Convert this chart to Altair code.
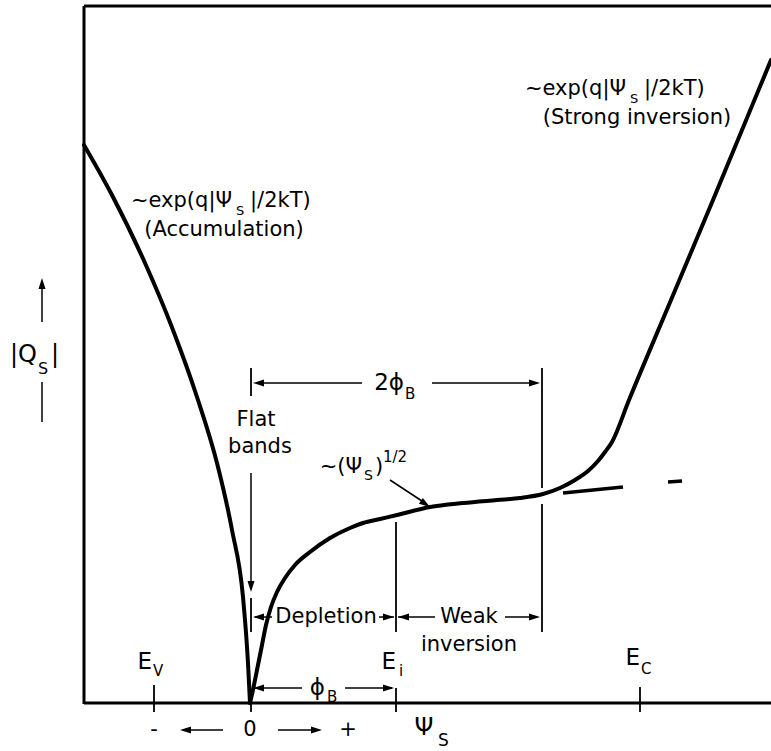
import altair as alt
import pandas as pd

# ---- curve data (diagram units: px-like, y grows downward) ----
left_x = [84, 113, 145, 173, 197, 217, 232, 243, 248, 250]
left_y = [145, 197, 263, 330, 397, 463, 530, 597, 663, 703]

right_x = [250, 254, 258, 262, 266, 271, 277, 285, 295, 310, 330, 350, 363, 380, 397, 430, 463, 497,
           520, 543, 560, 575, 588, 598, 605, 612, 629, 671, 713, 771]
right_y = [703, 685, 665, 645, 625, 607, 592, 578, 565, 552, 538, 528, 523, 519, 515, 507, 503, 500,
           498, 494, 488, 480, 471, 461, 452, 442, 400, 300, 200, 60]

dash1_x = [563, 623]
dash1_y = [493, 487]
dash2_x = [668, 682]
dash2_y = [482, 481]

# ---- straight lines: x, y, x2, y2, width ----
rule_x1 = [84, 84, 84, 42, 42, 251, 258, 432, 542, 542, 251, 251, 255, 379, 396, 398, 505, 253, 345,
           154, 251, 396, 640, 185, 278, 390]
rule_y1 = [6, 6, 703, 322, 382, 368, 383, 383, 368, 504, 473, 598, 617, 617, 522, 617, 617, 688, 688,
           685, 703, 688, 687, 730, 730, 480]
rule_x2 = [771, 84, 771, 42, 42, 251, 362, 535, 542, 542, 251, 251, 272, 394, 396, 435, 535, 302, 392,
           154, 251, 396, 640, 223, 317, 425]
rule_y2 = [6, 704, 703, 285, 422, 396, 383, 383, 488, 632, 585, 632, 617, 617, 632, 617, 617, 688, 688,
           712, 712, 712, 712, 730, 730, 503]
rule_w = [3, 3, 3, 1.5, 1.5, 1.8, 1.5, 1.5, 1.8, 1.8, 1.5, 1.8, 1.5, 1.5, 1.8, 1.5, 1.5, 1.5, 1.5,
          1.8, 1.8, 1.8, 1.8, 1.5, 1.5, 1.5]

# ---- arrowheads: tip x, tip y, direction, rotation ----
head_x = [42, 253, 540, 251, 253, 394, 398, 540, 253, 394, 180, 322, 430]
head_y = [278, 383, 383, 592, 617, 617, 617, 617, 688, 688, 730, 730, 507]
head_dir = ["up", "left", "right", "down", "left", "right", "left", "right", "left", "right",
            "left", "right", "right"]
head_angle = [0, 0, 0, 0, 0, 0, 0, 0, 0, 0, 0, 0, 34]

# ---- texts ----
center_txt = ["(Accumulation)", "(Strong inversion)", "Flat", "bands", "Depletion", "Weak",
              "inversion", "-", "0", "+", "Ψ"]
center_x = [224, 637, 256, 260, 326, 469, 469, 154, 250, 348, 424]
center_y = [230, 118, 420, 447, 617, 617, 645, 730, 730, 730, 728]
center_s = [21, 21, 21, 21, 21, 21, 21, 21, 21, 21, 24]

right_txt = ["~exp(q|Ψ", "~exp(q|Ψ", "~(Ψ", "2ϕ", "ϕ", "E", "E", "E", "|Q"]
right_tx = [232, 626, 362, 404, 325, 152, 396, 640, 37]
right_ty = [201, 89, 467, 383, 688, 662, 662, 658, 355]
right_s = [21, 21, 21, 23, 23, 23, 23, 23, 24]

left_txt = ["S", "S", "S", "B", "B", "V", "i", "C", "S", "S",
            "|/2kT)", "|/2kT)", ")", "|", "1/2"]
left_tx = [236, 630, 364, 405, 327, 153, 399, 641, 438, 38,
           250, 644, 375, 51, 383]
left_ty = [211, 99, 476, 394, 697, 671, 671, 669, 741, 369,
           201, 89, 467, 355, 457]
left_s = [13, 13, 14, 15, 15, 15, 15, 15, 17, 16,
          21, 21, 21, 24, 15]

W, H = 771, 751
FONT = "DejaVu Sans"
xs = alt.Scale(domain=[0, W], range=[0, W])
ys = alt.Scale(domain=[0, H], range=[0, H])

paths = {
    "left": "M0,0L1,-0.32L1,0.32Z",
    "right": "M0,0L-1,-0.32L-1,0.32Z",
    "up": "M0,0L-0.32,1L0.32,1Z",
    "down": "M0,0L-0.32,-1L0.32,-1Z",
}

curves = pd.DataFrame(
    [dict(x=a, y=b, seg="left", o=i) for i, (a, b) in enumerate(zip(left_x, left_y))]
    + [dict(x=a, y=b, seg="right", o=i) for i, (a, b) in enumerate(zip(right_x, right_y))]
)
dashes = pd.DataFrame(
    [dict(x=a, y=b, seg="d1", o=i) for i, (a, b) in enumerate(zip(dash1_x, dash1_y))]
    + [dict(x=a, y=b, seg="d2", o=i) for i, (a, b) in enumerate(zip(dash2_x, dash2_y))]
)
rules = pd.DataFrame(dict(x=rule_x1, y=rule_y1, x2=rule_x2, y2=rule_y2, w=rule_w))
heads = pd.DataFrame(dict(x=head_x, y=head_y, shape=[paths[d] for d in head_dir], a=head_angle))
tc = pd.DataFrame(dict(x=center_x, y=center_y, t=center_txt, s=center_s))
tr = pd.DataFrame(dict(x=right_tx, y=right_ty, t=right_txt, s=right_s))
tl = pd.DataFrame(dict(x=left_tx, y=left_ty, t=left_txt, s=left_s))

X = lambda f="x": alt.X(f, type="quantitative", scale=xs, axis=None)
Y = lambda f="y": alt.Y(f, type="quantitative", scale=ys, axis=None)

curve_layer = alt.Chart(curves).mark_line(
    color="black", strokeWidth=4, strokeCap="round", interpolate="monotone", clip=True
).encode(x=X(), y=Y(), detail="seg:N", order="o:Q")
dash_layer = alt.Chart(dashes).mark_line(color="black", strokeWidth=3.5).encode(
    x=X(), y=Y(), detail="seg:N", order="o:Q")
rule_layer = alt.Chart(rules).mark_rule(color="black").encode(
    x=X(), y=Y(), x2="x2:Q", y2="y2:Q", strokeWidth=alt.StrokeWidth("w:Q", scale=None))
head_layer = alt.Chart(heads).mark_point(filled=True, color="black", opacity=1, size=484, strokeWidth=0).encode(
    x=X(), y=Y(), shape=alt.Shape("shape:N", scale=None), angle=alt.Angle("a:Q", scale=None))


def text_layer(df, align):
    return alt.Chart(df).mark_text(align=align, baseline="middle", font=FONT, color="black").encode(
        x=X(), y=Y(), text="t:N", size=alt.Size("s:Q", scale=None))


chart = alt.layer(
    rule_layer, curve_layer, dash_layer, head_layer,
    text_layer(tc, "center"), text_layer(tr, "right"), text_layer(tl, "left"),
).properties(width=W, height=H, padding=0, autosize="none", background="white").configure_view(stroke=None)

chart.save("out.html", embed_options={"renderer": "svg", "actions": False})
